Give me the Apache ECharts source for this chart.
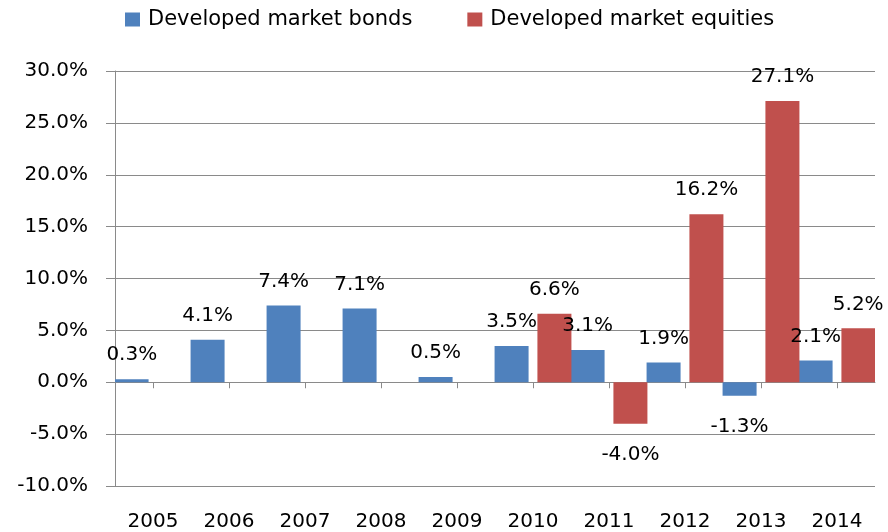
<!DOCTYPE html>
<html>
<head>
<meta charset="utf-8">
<script src="https://cdn.jsdelivr.net/npm/echarts@6/dist/echarts.min.js"></script>
<style>
  html, body { margin: 0; padding: 0; background: #fff; }
  #chart { width: 888px; height: 532px; }
</style>
</head>
<body>
<div id="chart"></div>
<script>
// data (percent)
var years = ['2005', '2006', '2007', '2008', '2009', '2010', '2011', '2012', '2013', '2014'];
var bonds = [0.3, 4.1, 7.4, 7.1, 0.5, 3.5, 3.1, 1.9, -1.3, 2.1];
var equities = [null, null, null, null, null, 6.6, -4.0, 16.2, 27.1, 5.2];
var seriesNames = ['Developed market bonds', 'Developed market equities'];
var yMin = -10, yMax = 30, yStep = 5;

var FONT = 'DejaVu Sans';
var lineColor = '#8a8a8a';

function pct(v) { return v.toFixed(1) + '%'; }

// positive labels sit above the bar, negative ones below (a bit farther)
function withLabels(values) {
  return values.map(function (v) {
    if (v === null) return '-';
    return { value: v, label: { distance: v < 0 ? 21 : 14 } };
  });
}

var myChart = echarts.init(document.getElementById('chart'));

var option = {
  animation: false,
  textStyle: { fontFamily: FONT },
  legend: {
    top: 4,
    left: 120,
    icon: 'rect',
    itemWidth: 15,
    itemHeight: 14,
    itemGap: 55,
    textStyle: { fontFamily: FONT, fontSize: 21, color: '#000', padding: [0, 0, 0, 3] },
    data: seriesNames
  },
  grid: { left: 115, right: 13, top: 71, bottom: 46 },
  xAxis: [
    {
      // labels at the bottom of the plot
      type: 'category',
      data: years,
      position: 'bottom',
      axisLine: { show: false, onZero: false },
      axisTick: { show: false },
      axisLabel: { fontFamily: FONT, fontSize: 20, color: '#000', margin: 26 }
    },
    {
      // axis line + ticks on the zero line
      type: 'category',
      data: years,
      position: 'top',
      axisLine: { show: true, onZero: true, lineStyle: { color: lineColor, width: 1 } },
      axisTick: { show: true, inside: true, alignWithLabel: true, length: 6, lineStyle: { color: lineColor } },
      axisLabel: { show: false },
      splitLine: { show: false }
    }
  ],
  yAxis: {
    type: 'value',
    min: yMin,
    max: yMax,
    interval: yStep,
    axisLine: { show: true, lineStyle: { color: lineColor, width: 1 } },
    axisTick: { show: true, length: 9, lineStyle: { color: lineColor } },
    splitLine: { show: true, lineStyle: { color: lineColor, width: 1 } },
    axisLabel: { fontFamily: FONT, fontSize: 20, color: '#000', margin: 27, formatter: pct }
  },
  series: [
    {
      name: seriesNames[0],
      type: 'bar',
      xAxisIndex: 0,
      barWidth: 34,
      barGap: '26%',
      itemStyle: { color: '#4F81BD' },
      label: {
        show: true,
        position: 'outside',
        fontFamily: FONT,
        fontSize: 20,
        color: '#000',
        formatter: function (p) { return pct(p.value); }
      },
      data: withLabels(bonds)
    },
    {
      name: seriesNames[1],
      type: 'bar',
      xAxisIndex: 0,
      barWidth: 34,
      barGap: '26%',
      itemStyle: { color: '#C0504D' },
      label: {
        show: true,
        position: 'outside',
        fontFamily: FONT,
        fontSize: 20,
        color: '#000',
        formatter: function (p) { return pct(p.value); }
      },
      data: withLabels(equities)
    }
  ]
};

myChart.setOption(option);
</script>
</body>
</html>
